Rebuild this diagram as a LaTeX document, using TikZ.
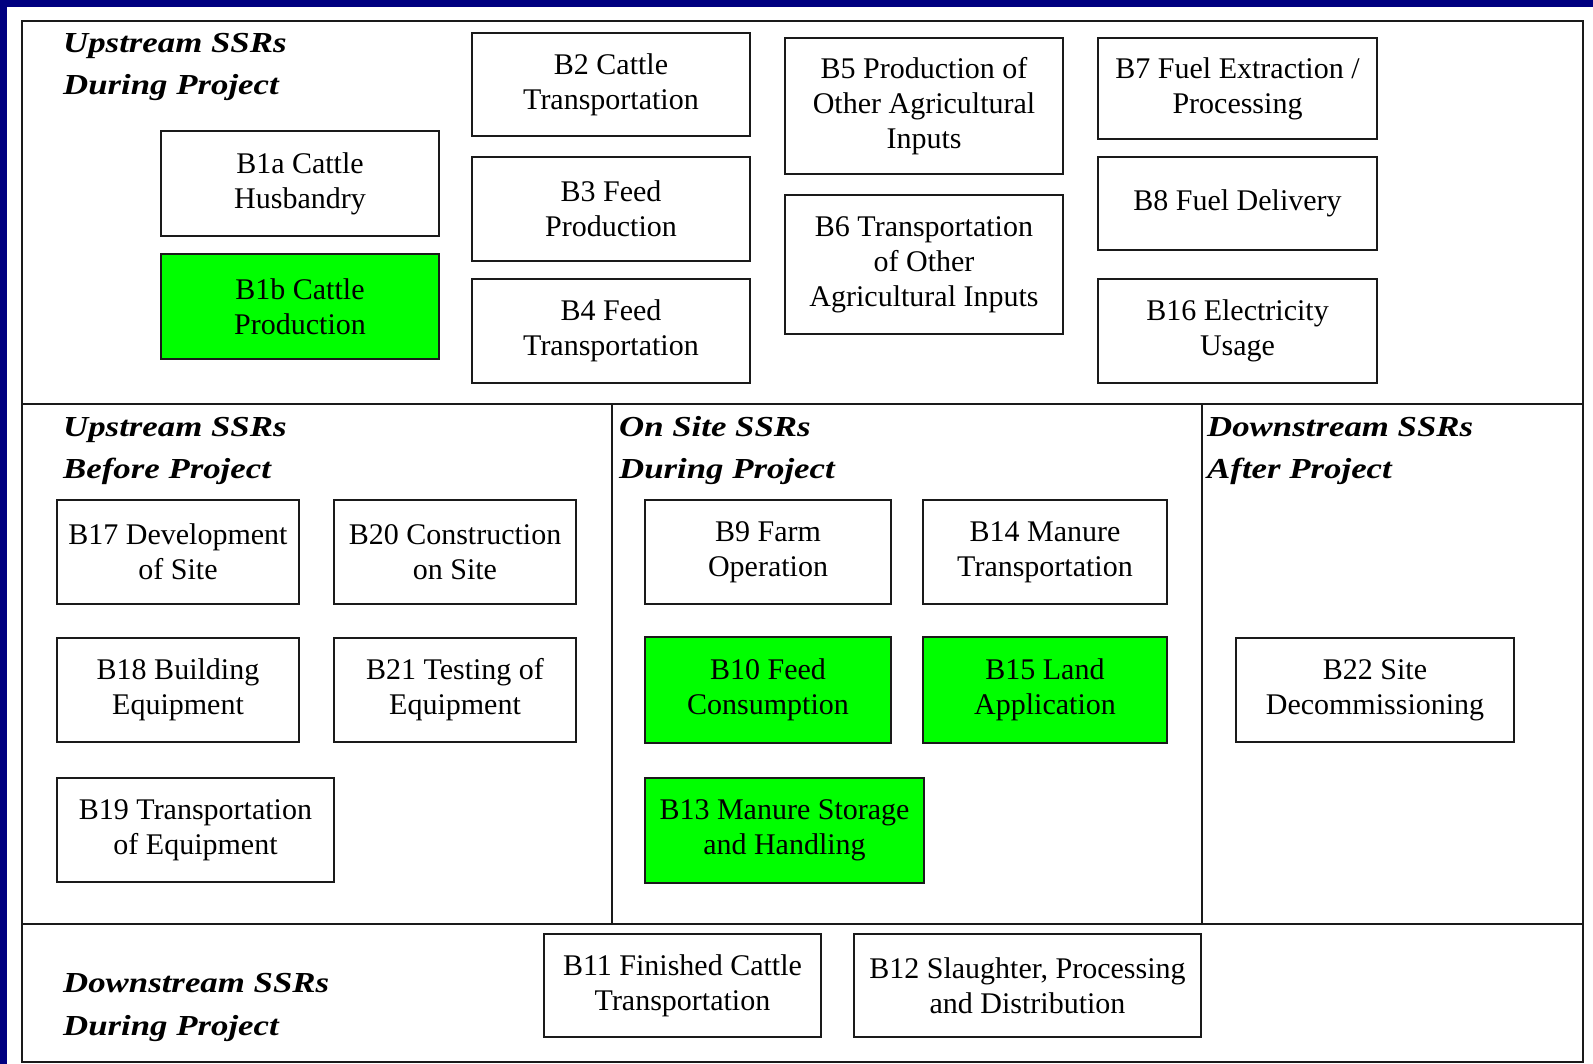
\documentclass[tikz,border=0pt]{standalone}
\usepackage{fontspec}
\setmainfont{Liberation Serif}
\newfontfamily\headfont[FakeStretch=1.2]{Liberation Serif}
\definecolor{navybg}{HTML}{000080}
\definecolor{boxgreen}{HTML}{00FF00}
\definecolor{framegray}{HTML}{1A1A1A}
\tikzset{
  ssrbox/.style={draw=framegray, line width=2pt, fill=white, align=center, inner sep=0pt,
    font=\fontsize{30}{35}\selectfont},
  greenbox/.style={ssrbox, fill=boxgreen},
  heading/.style={anchor=base west, inner sep=0pt, font=\headfont\bfseries\itshape\fontsize{29}{33}\selectfont},
  frameline/.style={draw=framegray, line width=2.6pt},
}
\begin{document}
\begin{tikzpicture}[x=1pt,y=-1pt]
\useasboundingbox (0,0) rectangle (1593,1064);
\fill[navybg] (0,0) rectangle (1593,1064);
\fill[white] (7,7) rectangle (1593,1064);
% frame
\coordinate (tl) at (22,21);
\coordinate (br) at (1583,1062);
\draw[frameline] (tl) rectangle (br);
\coordinate (h1l) at (22,404); \coordinate (h1r) at (1583,404);
\coordinate (h2l) at (22,924); \coordinate (h2r) at (1583,924);
\coordinate (v1t) at (612,404); \coordinate (v1b) at (612,924);
\coordinate (v2t) at (1202,404); \coordinate (v2b) at (1202,924);
\draw[frameline] (h1l) -- (h1r);
\draw[frameline] (h2l) -- (h2r);
\draw[frameline] (v1t) -- (v1b);
\draw[frameline] (v2t) -- (v2b);
% headings (baselines)
\node[heading] (hud1) at (63,53) {Upstream SSRs};
\node[heading] (hud2) at (63,95) {During Project};
\node[heading] (hub1) at (63,436) {Upstream SSRs};
\node[heading] (hub2) at (63,478) {Before Project};
\node[heading] (hos1) at (619,436) {On Site SSRs};
\node[heading] (hos2) at (619,478) {During Project};
\node[heading] (hda1) at (1207,436) {Downstream SSRs};
\node[heading] (hda2) at (1207,478) {After Project};
\node[heading] (hdd1) at (63,992) {Downstream SSRs};
\node[heading] (hdd2) at (63,1035) {During Project};
% upstream during project
\node[ssrbox, minimum width=278, minimum height=105] (b1a) at (300,183.5) {B1a Cattle\\Husbandry};
\node[greenbox, minimum width=278, minimum height=105] (b1b) at (300,306.5) {B1b Cattle\\Production};
\node[ssrbox, minimum width=278, minimum height=103] (b2) at (611,84.5) {B2 Cattle\\Transportation};
\node[ssrbox, minimum width=278, minimum height=104] (b3) at (611,209) {B3 Feed\\Production};
\node[ssrbox, minimum width=278, minimum height=104] (b4) at (611,331) {B4 Feed\\Transportation};
\node[ssrbox, minimum width=278, minimum height=136] (b5) at (924,106) {B5 Production of\\Other Agricultural\\Inputs};
\node[ssrbox, minimum width=278, minimum height=139] (b6) at (924,264.5) {B6 Transportation\\of Other\\Agricultural Inputs};
\node[ssrbox, minimum width=279, minimum height=101] (b7) at (1237.5,88.5) {B7 Fuel Extraction /\\Processing};
\node[ssrbox, minimum width=279, minimum height=93] (b8) at (1237.5,203.5) {B8 Fuel Delivery};
\node[ssrbox, minimum width=279, minimum height=104] (b16) at (1237.5,331) {B16 Electricity\\Usage};
% upstream before project
\node[ssrbox, minimum width=242, minimum height=104] (b17) at (178,552) {B17 Development\\of Site};
\node[ssrbox, minimum width=242, minimum height=104] (b20) at (455,552) {B20 Construction\\on Site};
\node[ssrbox, minimum width=242, minimum height=104] (b18) at (178,690) {B18 Building\\Equipment};
\node[ssrbox, minimum width=242, minimum height=104] (b21) at (455,690) {B21 Testing of\\Equipment};
\node[ssrbox, minimum width=277, minimum height=104] (b19) at (195.5,830) {B19 Transportation\\of Equipment};
% on site
\node[ssrbox, minimum width=246, minimum height=104] (b9) at (768,552) {B9 Farm\\Operation};
\node[ssrbox, minimum width=244, minimum height=104] (b14) at (1045,552) {B14 Manure\\Transportation};
\node[greenbox, minimum width=246, minimum height=106] (b10) at (768,690) {B10 Feed\\Consumption};
\node[greenbox, minimum width=244, minimum height=106] (b15) at (1045,690) {B15 Land\\Application};
\node[greenbox, minimum width=279, minimum height=105] (b13) at (784.5,830.5) {B13 Manure Storage\\and Handling};
% downstream after project
\node[ssrbox, minimum width=278, minimum height=104] (b22) at (1375,690) {B22 Site\\Decommissioning};
% downstream during project
\node[ssrbox, minimum width=277, minimum height=103] (b11) at (682.5,985.5) {B11 Finished Cattle\\Transportation};
\node[ssrbox, minimum width=347, minimum height=103] (b12) at (1027.5,985.5) {B12 Slaughter, Processing\\and Distribution};
\end{tikzpicture}
\end{document}
